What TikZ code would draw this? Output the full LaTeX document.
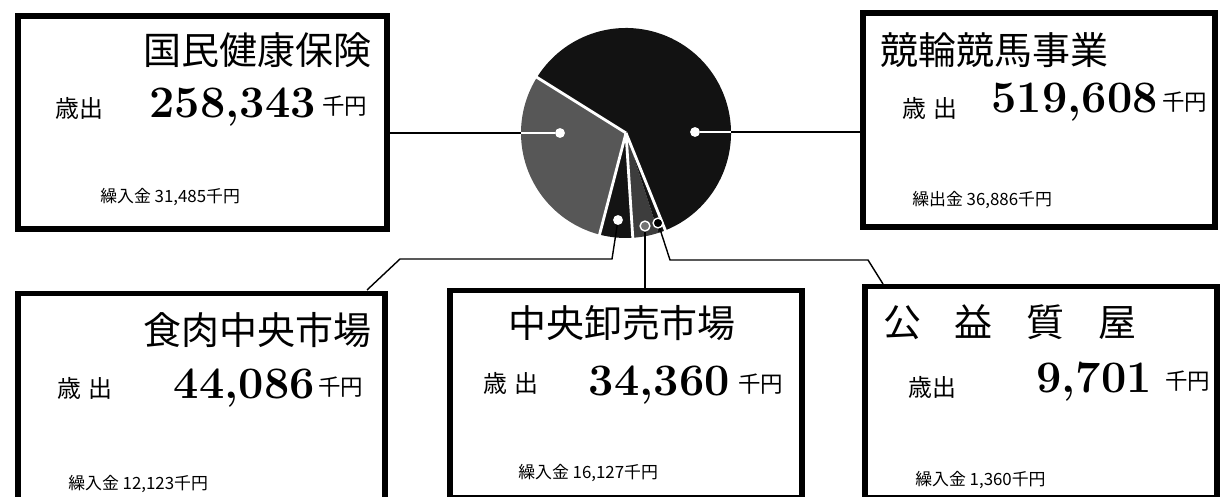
\documentclass[tikz,border=0pt]{standalone}
\usepackage{fontspec}
\newfontfamily\jp{Noto Sans CJK JP}
\newcommand\pxl{0.025cm}
\begin{document}
\begin{tikzpicture}[x=\pxl,y=-\pxl,
 box/.style={draw,line width=4pt,inner sep=0pt},
 ttl/.style={inner sep=0pt,font=\jp\fontsize{27}{27}\selectfont},
 sai/.style={inner sep=0pt,anchor=west,font=\jp\fontsize{17}{17}\selectfont},
 num/.style={inner sep=0pt,anchor=base east,font=\fontsize{32}{32}\selectfont\bfseries},
 yen/.style={inner sep=0pt,anchor=west,font=\jp\fontsize{16}{16}\selectfont},
 kuri/.style={inner sep=0pt,anchor=west,font=\jp\fontsize{12}{12}\selectfont},
 conn/.style={line width=1pt},
 dot/.style={circle,fill=white,inner sep=0pt,minimum size=7pt},
 ]
\useasboundingbox (0,0) rectangle (1220,497);
\clip (0,0) rectangle (1220,497);

%Kreis
\coordinate (pc) at (626,133);
\foreach \a/\b/\c in {-148/-255.4/black!66,-255.4/-273.7/black!92,-273.7/-288/black!76,-288/-292/black!92,-292/-508/black!93}
 \fill[\c] (pc) -- ++(\a:105) arc[start angle=\a, end angle=\b, radius=105] -- cycle;
\foreach \a in {-148,-255.4,-273.7,-292}
 \draw[white,line width=2pt] (pc) -- ++(\a:107);

\coordinate (rimW) at (521,133);
\coordinate (rimE) at (731,132);
\node[dot] (dKokuho) at (560,133) {};
\node[dot] (dKeirin) at (695,132) {};
\node[dot] (dShoku) at (618,220) {};
\node[dot,fill=black!55,draw=white,line width=1pt] (dOroshi) at (645,226) {};
\node[dot,fill=black,draw=white,line width=1pt] (dShichi) at (658,223) {};
\draw[white,line width=1.5pt] (dKokuho) -- (rimW) (dKeirin) -- (rimE);

%Kaesten
\node[box,minimum width=369*\pxl,minimum height=213*\pxl] (kokuho) at (202.5,122.5) {};
\node[box,minimum width=352*\pxl,minimum height=214*\pxl] (keirin) at (1039,120) {};
\node[box,minimum width=367*\pxl,minimum height=207*\pxl] (shoku) at (201.5,397) {};
\node[box,minimum width=352*\pxl,minimum height=207*\pxl] (oroshi) at (626,394) {};
\node[box,minimum width=352*\pxl,minimum height=211*\pxl] (shichi) at (1041,392) {};

\coordinate (s1) at (612,259);
\coordinate (s2) at (400,259);
\coordinate (s3) at (367,290);
\coordinate (q1) at (670,260);
\coordinate (q2) at (868,260);
\coordinate (q3) at (883,284);
\draw[conn] (rimW) -- (rimW -| kokuho.east);
\draw[conn] (rimE) -- (rimE -| keirin.west);
\draw[conn] (dShoku) -- (s1) -- (s2) -- (s3);
\draw[conn] (dOroshi) -- (dOroshi |- oroshi.north);
\draw[conn] (dShichi) -- (q1) -- (q2) -- (q3);

%Beschriftung
\node[ttl,anchor=east] (tKokuho) at (372,50) {国民健康保険};
\node[sai] (sKokuho) at (55,108) {歳出};
\node[num] (nKokuho) at (316,118) {258,343};
\node[yen] (yKokuho) at (322,106) {千円};
\node[kuri] (kKokuho) at (100,197) {繰入金 31,485千円};

\node[ttl,anchor=west] (tKeirin) at (880,50) {競輪競馬事業};
\node[sai] (sKeirin) at (902,108) {歳\hspace{5pt}出};
\node[num] (nKeirin) at (1158,113) {519,608};
\node[yen] (yKeirin) at (1162,102) {千円};
\node[kuri] (kKeirin) at (912,200) {繰出金 36,886千円};

\node[ttl,anchor=east] (tShoku) at (372,330) {食肉中央市場};
\node[sai] (sShoku) at (57,388) {歳\hspace{5pt}出};
\node[num] (nShoku) at (315,398) {44,086};
\node[yen] (yShoku) at (318,387) {千円};
\node[kuri] (kShoku) at (68,484) {繰入金 12,123千円};

\node[ttl] (tOroshi) at (622,323) {中央卸売市場};
\node[sai] (sOroshi) at (483,383) {歳\hspace{5pt}出};
\node[num] (nOroshi) at (730,395) {34,360};
\node[yen] (yOroshi) at (738,384) {千円};
\node[kuri] (kOroshi) at (518,473) {繰入金 16,127千円};

\node[ttl,anchor=west] (tShichi) at (883,322) {公\hspace{24pt}益\hspace{24pt}質\hspace{24pt}屋};
\node[sai] (sShichi) at (908,387) {歳出};
\node[num] (nShichi) at (1152,392) {9,701};
\node[yen] (yShichi) at (1165,381) {千円};
\node[kuri] (kShichi) at (915,480) {繰入金 1,360千円};
\end{tikzpicture}
\end{document}
